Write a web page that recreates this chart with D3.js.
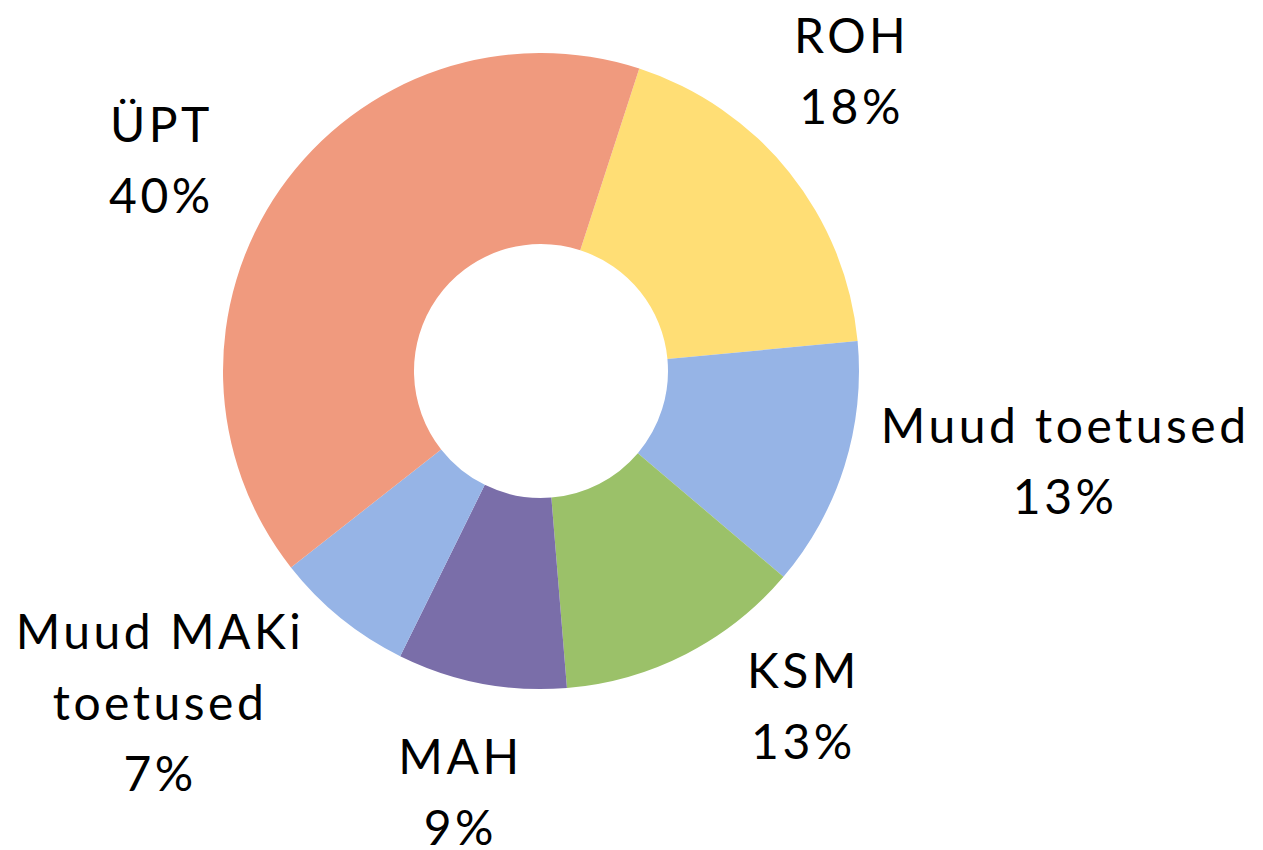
<!DOCTYPE html>
<html>
<head>
<meta charset="utf-8">
<script src="https://cdn.jsdelivr.net/npm/d3@7"></script>
<style>
  body { margin: 0; background: #fff; }
  text { font-family: Lato, "Open Sans", sans-serif; fill: #000; letter-spacing: 3.5px; }
</style>
</head>
<body>
<div id="chart"></div>
<script>
var categories = ['ROH', 'Muud toetused', 'KSM', 'MAH', 'Muud MAKi toetused', 'ÜPT'];
var labelLines = [['ROH'], ['Muud toetused'], ['KSM'], ['MAH'], ['Muud MAKi', 'toetused'], ['ÜPT']];
var shares = [18.5, 12.7, 12.5, 8.6, 7.1, 40.6];
var percentLabels = ['18%', '13%', '13%', '9%', '7%', '40%'];
var colors = ['#FFDE75', '#96B4E6', '#9BC169', '#7A6EA9', '#96B4E6', '#F09A7E'];
// small nudges so labels sit where the original puts them
var nudges = [[-25, -30], [114, -38], [66, -47], [0, -1], [-110, -2], [-27, 36]];

function init() {
    'use strict';
    var width = 1263, height = 850;
    var cx = 541, cy = 371, outerR = 318, innerR = 127, labelR = 430;
    var rot = 18 * Math.PI / 180;

    var svg = d3.select('#chart').append('svg')
        .attr('width', width)
        .attr('height', height);
    var g = svg.append('g').attr('transform', 'translate(' + cx + ',' + cy + ')');

    var pie = d3.pie().sort(null).value(function (d) { return d; })
        .startAngle(rot).endAngle(rot + 2 * Math.PI);
    var arcs = pie(shares);
    var arc = d3.arc().innerRadius(innerR).outerRadius(outerR);
    var labelArc = d3.arc().innerRadius(labelR).outerRadius(labelR);

    g.selectAll('path').data(arcs).enter().append('path')
        .attr('d', arc)
        .attr('fill', function (d, i) { return colors[i]; });

    var lineH = 71;
    var labels = g.selectAll('text.lbl').data(arcs).enter().append('text')
        .attr('class', 'lbl')
        .attr('text-anchor', 'middle')
        .attr('font-size', 48)
        .attr('transform', function (d, i) {
            var c = labelArc.centroid(d);
            return 'translate(' + (c[0] + nudges[i][0]) + ',' + (c[1] + nudges[i][1]) + ')';
        });
    labels.each(function (d, i) {
        var lines = labelLines[i].concat([percentLabels[i]]);
        var t = d3.select(this);
        var top = -(lines.length - 1) * lineH / 2;
        lines.forEach(function (s, k) {
            t.append('tspan').attr('x', 0).attr('y', top + k * lineH).attr('dy', '0.35em').text(s);
        });
    });
}

window.onload = init;
</script>
</body>
</html>
